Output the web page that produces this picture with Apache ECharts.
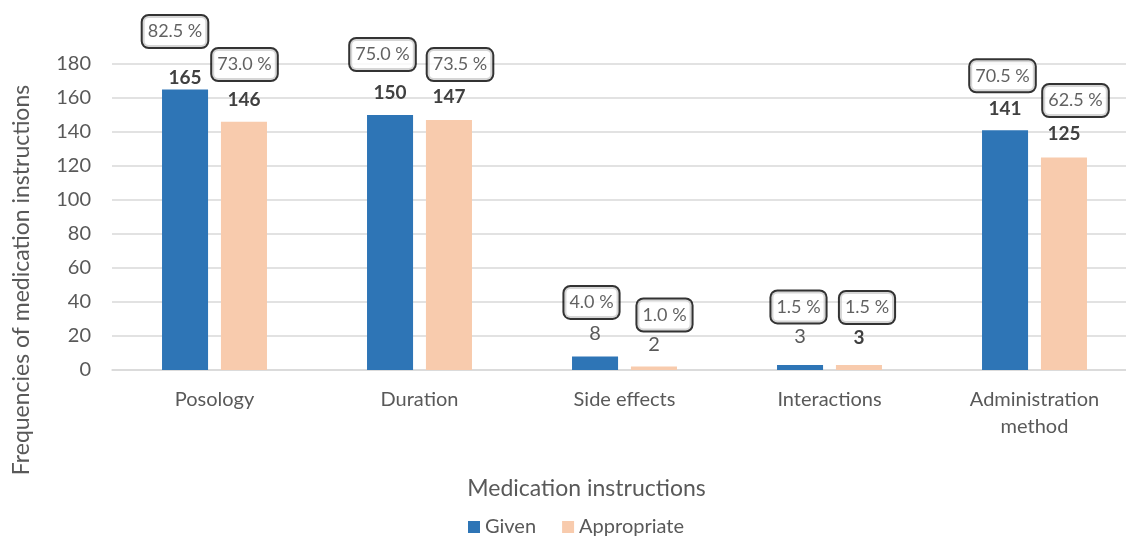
<!DOCTYPE html>
<html><head><meta charset="utf-8">
<script src="https://cdn.jsdelivr.net/npm/echarts@6/dist/echarts.min.js"></script>
<style>html,body{margin:0;padding:0;background:#fff}#c{width:1126px;height:536px}</style>
</head><body><div id="c"></div>
<script>
const categories = ['Posology', 'Duration', 'Side effects', 'Interactions', 'Administration\nmethod'];
const givenValues = [165, 150, 8, 3, 141];
const appropriateValues = [146, 147, 2, 3, 125];
const givenPercents = ['82.5', '75.0', '4.0', '1.5', '70.5'];
const appropriatePercents = ['73.0', '73.5', '1.0', '1.5', '62.5'];
const yTicks = [0, 20, 40, 60, 80, 100, 120, 140, 160, 180];

// label styling (not data)
const givenLabelLook = [
  {bold: true, dist: 2}, {bold: true, dist: 12.5}, {bold: false, dist: 13}, {bold: false, dist: 18}, {bold: true, dist: 11.5}
];
const appLabelLook = [
  {bold: true, dist: 12.5}, {bold: true, dist: 13.5}, {bold: false, dist: 12}, {bold: true, dist: 17.5}, {bold: true, dist: 14}
];
const givenBoxOffset = [[-39.5, -58], [-37, -60.5], [-33, -54], [-31, -58], [-32, -54.5]];
const appBoxOffset = [[30, -57.3], [40.5, -55.5], [40, -51.6], [37.5, -57.4], [41, -57]];

const FONT = 'Lato';
const BLUE = '#2E75B6', PEACH = '#F8CBAD';

function barData(vals, looks) {
  return vals.map((v, i) => ({
    value: v,
    label: {
      show: true, position: 'top', distance: looks[i].dist,
      fontFamily: FONT,
      fontSize: looks[i].bold ? 19 : 20,
      fontWeight: looks[i].bold ? 'bold' : 'normal',
      color: looks[i].bold ? '#404040' : '#595959',
      formatter: String(v)
    }
  }));
}
function boxData(vals, pcts, offs) {
  return vals.map((v, i) => ({
    value: [i, v],
    label: {
      show: true, position: [0, 0], align: 'center', verticalAlign: 'middle',
      offset: offs[i],
      formatter: pcts[i] + ' %',
      fontFamily: FONT, fontSize: 18, color: '#3a3a3a',
      backgroundColor: '#fff', borderColor: '#000', borderWidth: 2, borderRadius: 6,
      padding: [7, 5, 6, 5]
    }
  }));
}

const chart = echarts.init(document.getElementById('c'), null, {renderer: 'canvas'});
chart.setOption({
  animation: false,
  grid: {left: 112, top: 64, width: 1025, height: 306, containLabel: false, outerBoundsMode: 'none'},
  legend: {
    top: 512, left: 463, itemWidth: 12, itemHeight: 12, itemGap: 26, icon: 'rect',
    textStyle: {fontFamily: FONT, fontSize: 20, color: '#595959'},
    data: ['Given', 'Appropriate']
  },
  xAxis: {
    type: 'category', data: categories,
    name: 'Medication instructions', nameLocation: 'middle', nameGap: 107,
    nameTextStyle: {fontFamily: FONT, fontSize: 23, color: '#595959', padding: [0, 76, 0, 0]},
    axisTick: {show: false},
    axisLine: {lineStyle: {color: '#d9d9d9', width: 1.5}},
    axisLabel: {fontFamily: FONT, fontSize: 20, color: '#595959', margin: 16.5, lineHeight: 27}
  },
  yAxis: {
    type: 'value', min: yTicks[0], max: yTicks[yTicks.length - 1], interval: 20,
    axisLine: {show: false}, axisTick: {show: false},
    splitLine: {lineStyle: {color: '#d9d9d9', width: 1.5}},
    axisLabel: {fontFamily: FONT, fontSize: 20, color: '#595959', margin: 21}
  },
  graphic: [{
    type: 'text', x: 22, y: 280, rotation: Math.PI / 2,
    style: {text: 'Frequencies of medication instructions', fontFamily: FONT, fontSize: 23,
      fill: '#595959', align: 'center', verticalAlign: 'middle'}
  }],
  series: [
    {name: 'Given', type: 'bar', data: barData(givenValues, givenLabelLook),
      itemStyle: {color: BLUE}, barCategoryGap: '48.8%', barGap: '28%'},
    {name: 'Appropriate', type: 'bar', data: barData(appropriateValues, appLabelLook),
      itemStyle: {color: PEACH}, barCategoryGap: '48.8%', barGap: '28%'},
    {type: 'scatter', symbolSize: 0, silent: true, z: 10, data: boxData(givenValues, givenPercents, givenBoxOffset)},
    {type: 'scatter', symbolSize: 0, silent: true, z: 10, data: boxData(appropriateValues, appropriatePercents, appBoxOffset)}
  ]
});
</script></body></html>
